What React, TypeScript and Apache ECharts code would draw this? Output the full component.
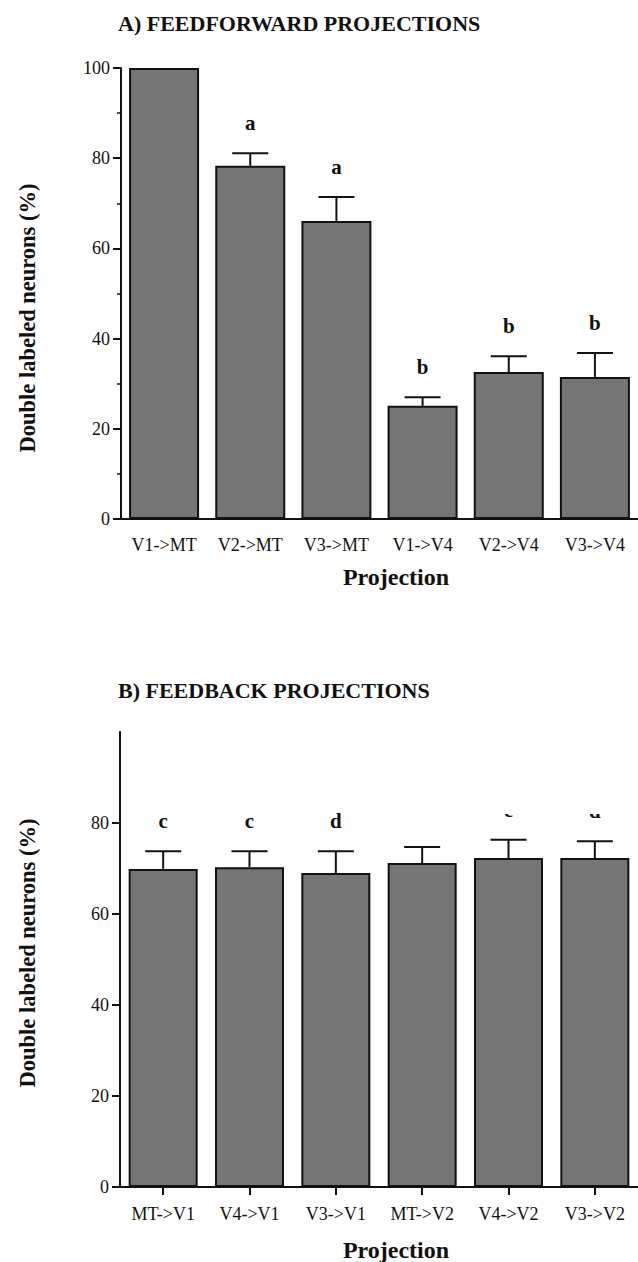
import React, { useEffect, useRef } from "react";
import * as echarts from "echarts";

const catsA = ["V1->MT", "V2->MT", "V3->MT", "V1->V4", "V2->V4", "V3->V4"];
const valsA = [100, 78.3, 66.1, 25.1, 32.6, 31.5];
const errA = [0, 2.8, 5.3, 1.9, 3.5, 5.3];
const lettersA = ["", "a", "a", "b", "b", "b"];

const catsB = ["MT->V1", "V4->V1", "V3->V1", "MT->V2", "V4->V2", "V3->V2"];
const valsB = [69.9, 70.3, 69.0, 71.2, 72.3, 72.3];
const errB = [3.9, 3.5, 4.8, 3.5, 4.0, 3.7];
const lettersB = ["c", "c", "d", "", "c", "d"];

const yTicks = [0, 20, 40, 60, 80, 100];
const yTicksB = [0, 20, 40, 60, 80];
const minorB = [10, 30, 50, 70];

const titleA = "A) FEEDFORWARD PROJECTIONS";
const titleB = "B) FEEDBACK PROJECTIONS";
const yName = "Double labeled neurons (%)";
const xName = "Projection";

const SERIF = "'Liberation Serif', 'Times New Roman', serif";
const BAR = "#757575";

function errSeries(xi: number, yi: number, vals: number[], errs: number[], letters: string[]) {
  return {
    type: "custom",
    xAxisIndex: xi,
    yAxisIndex: yi,
    z: 5,
    data: vals.map((v, i) => [i, v, v + errs[i]]),
    renderItem: (params: any, api: any) => {
      const i = params.dataIndex;
      const top = api.coord([api.value(0), api.value(1)]);
      const hi = api.coord([api.value(0), api.value(2)]);
      const children: any[] = [];
      if (errs[i] > 0) {
        children.push({
          type: "line",
          shape: { x1: top[0], y1: top[1], x2: hi[0], y2: hi[1] },
          style: { stroke: "#111", lineWidth: 2 },
        });
        children.push({
          type: "line",
          shape: { x1: hi[0] - 18, y1: hi[1], x2: hi[0] + 18, y2: hi[1] },
          style: { stroke: "#111", lineWidth: 2 },
        });
      }
      if (letters[i]) {
        children.push({
          type: "text",
          x: hi[0],
          y: hi[1] - 30,
          style: {
            text: letters[i],
            fill: "#111",
            font: `bold 21px ${SERIF}`,
            align: "center",
            verticalAlign: "middle",
          },
        });
      }
      return { type: "group", children };
    },
  };
}

export default function App() {
  const ref = useRef<HTMLDivElement>(null);
  useEffect(() => {
    if (!ref.current) return;
    const chart = echarts.init(ref.current, null, { renderer: "svg" });
    const axisLabelY = { color: "#111", fontSize: 18, fontFamily: SERIF, margin: 11 };
    const xLabel = { color: "#111", fontSize: 18, fontFamily: SERIF };
    const titleStyle = { fontFamily: SERIF, fontWeight: "bold", fontSize: 22, color: "#111" };
    chart.setOption({
      animation: false,
      backgroundColor: "#fff",
      title: [
        { text: titleA, left: 118, top: 12, padding: 0, textStyle: titleStyle },
        { text: titleB, left: 118, top: 679, padding: 0, textStyle: titleStyle },
      ],
      grid: [
        { left: 121, top: 68, width: 522, height: 451 },
        { left: 120, top: 732, width: 522, height: 455 },
      ],
      xAxis: [
        {
          type: "category",
          gridIndex: 0,
          data: catsA,
          axisLine: { lineStyle: { color: "#111", width: 2 } },
          axisTick: { show: false },
          axisLabel: { ...xLabel, margin: 17 },
        },
        {
          type: "category",
          gridIndex: 1,
          data: catsB,
          axisLine: { lineStyle: { color: "#111", width: 2 } },
          axisTick: { show: true, alignWithLabel: true, length: 8, lineStyle: { color: "#111", width: 2 } },
          axisLabel: { ...xLabel, margin: 18 },
        },
      ],
      yAxis: [
        {
          type: "value",
          gridIndex: 0,
          min: 0,
          max: 100,
          interval: 20,
          axisLine: { show: true, lineStyle: { color: "#111", width: 2 } },
          axisTick: { show: true, length: 8, lineStyle: { color: "#111", width: 2 } },
          minorTick: { show: true, splitNumber: 2, length: 4, lineStyle: { color: "#111", width: 1.5 } },
          splitLine: { show: false },
          axisLabel: { ...axisLabelY, customValues: yTicks },
        },
        {
          type: "value",
          gridIndex: 1,
          min: 0,
          max: 100,
          interval: 20,
          axisLine: { show: true, lineStyle: { color: "#111", width: 2 } },
          axisTick: { show: true, length: 8, customValues: yTicksB, lineStyle: { color: "#111", width: 2 } },
          splitLine: { show: false },
          axisLabel: { ...axisLabelY, customValues: yTicksB },
        },
        {
          type: "value",
          gridIndex: 1,
          min: 0,
          max: 100,
          interval: 20,
          axisLine: { show: false },
          axisTick: { show: true, length: 4, customValues: minorB, lineStyle: { color: "#111", width: 1.5 } },
          splitLine: { show: false },
          axisLabel: { show: false },
        },
      ],
      series: [
        {
          type: "bar",
          xAxisIndex: 0,
          yAxisIndex: 0,
          data: valsA,
          barWidth: 70,
          itemStyle: { color: BAR, borderColor: "#111", borderWidth: 2 },
        },
        errSeries(0, 0, valsA, errA, lettersA),
        {
          type: "bar",
          xAxisIndex: 1,
          yAxisIndex: 1,
          data: valsB,
          barWidth: 69,
          itemStyle: { color: BAR, borderColor: "#111", borderWidth: 2 },
        },
        errSeries(1, 1, valsB, errB, lettersB),
      ],
      graphic: [
        {
          type: "text",
          x: 27,
          y: 318,
          rotation: Math.PI / 2,
          style: { text: yName, font: `bold 22.5px ${SERIF}`, fill: "#111", align: "center", verticalAlign: "middle" },
        },
        {
          type: "text",
          x: 27,
          y: 953,
          rotation: Math.PI / 2,
          style: { text: yName, font: `bold 22.5px ${SERIF}`, fill: "#111", align: "center", verticalAlign: "middle" },
        },
        {
          type: "text",
          x: 396,
          y: 577,
          style: { text: xName, font: `bold 24px ${SERIF}`, fill: "#111", align: "center", verticalAlign: "middle" },
        },
        {
          type: "text",
          x: 396,
          y: 1250,
          style: { text: xName, font: `bold 24px ${SERIF}`, fill: "#111", align: "center", verticalAlign: "middle" },
        },
        {
          type: "rect",
          z: 100,
          shape: { x: 440, y: 780, width: 200, height: 34 },
          style: { fill: "#fff" },
        },
      ],
    });
    return () => chart.dispose();
  }, []);
  return <div ref={ref} style={{ position: "absolute", left: 0, top: 0, width: 638, height: 1262 }} />;
}
